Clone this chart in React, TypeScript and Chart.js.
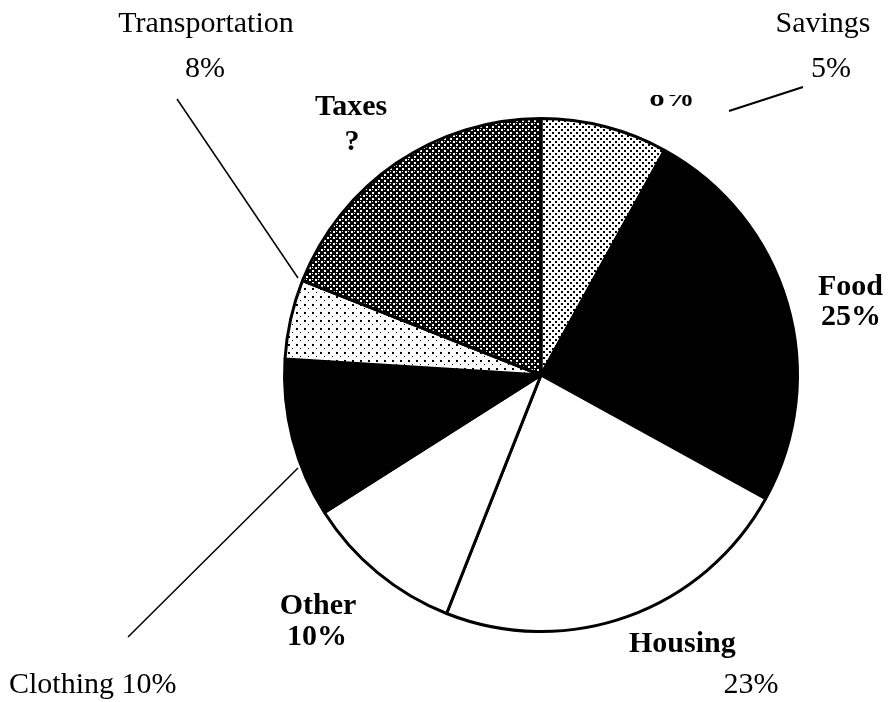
import React, { useEffect, useRef } from "react";
import { Chart, registerables } from "chart.js";

Chart.register(...registerables);

// ---- data ----
const categories = ["Savings", "Food", "Housing", "Other", "Clothing", "Transportation", "Taxes"];
const shares = [8, 25, 23, 10, 10, 5, 19];
const fills = ["dotsLight", "black", "white", "white", "black", "dotsSparse", "dotsDark"];

// labels printed on the scanned chart (bold)
const innerLabels = [
  ["8%"],
  ["Food", "25%"],
  ["Housing"],
  ["Other", "10%"],
  ["Taxes", "?"],
];
// typed annotations around the chart
const outerLabels = [
  ["Transportation", "8%"],
  ["Savings", "5%"],
  ["Clothing 10%"],
  ["23%"],
];

// ---- layout (positions only) ----
const W = 892;
const H = 702;
const innerPos = [
  { align: "center", x: [672], y: [106], clipTop: 95 },
  { align: "left", x: [818, 821], y: [295, 325], clipTop: 0 },
  { align: "left", x: [629], y: [652], clipTop: 0 },
  { align: "center", x: [318, 317], y: [614, 645], clipTop: 0 },
  { align: "center", x: [351, 352], y: [115, 150], clipTop: 0 },
];
const outerPos = [
  { align: "center", x: [206, 205], y: [32, 77] },
  { align: "center", x: [823, 831], y: [32, 77] },
  { align: "left", x: [9], y: [693] },
  { align: "center", x: [751], y: [693] },
];
const leaders = [
  [177, 99, 298, 278, 1.5],
  [803, 87, 729, 111, 2],
  [128, 637, 298, 468, 1.5],
];

function makePattern(size: number, bg: string, fg: string, dots: number[][]) {
  const c = document.createElement("canvas");
  c.width = size;
  c.height = size;
  const g = c.getContext("2d")!;
  g.fillStyle = bg;
  g.fillRect(0, 0, size, size);
  g.fillStyle = fg;
  dots.forEach(([x, y, s]) => g.fillRect(x, y, s, s));
  return g.createPattern(c, "repeat")!;
}

export default function App() {
  const ref = useRef<HTMLCanvasElement | null>(null);

  useEffect(() => {
    const canvas = ref.current!;
    const patterns: Record<string, any> = {
      black: "#000000",
      white: "#ffffff",
      dotsLight: makePattern(6, "#ffffff", "#000000", [[0, 0, 2], [3, 3, 2]]),
      dotsSparse: makePattern(8, "#ffffff", "#000000", [[0, 0, 2], [4, 4, 1]]),
      dotsDark: makePattern(6, "#000000", "#ffffff", [[0, 0, 2], [3, 3, 2], [0, 3, 1]]),
    };

    const whiteBg = {
      id: "whiteBg",
      beforeDraw(chart: any) {
        const ctx = chart.ctx;
        ctx.save();
        ctx.fillStyle = "#ffffff";
        ctx.fillRect(0, 0, W, H);
        ctx.restore();
      },
    };

    const annotations = {
      id: "annotations",
      afterDraw(chart: any) {
        const ctx = chart.ctx;
        ctx.save();
        ctx.fillStyle = "#000";
        ctx.textBaseline = "alphabetic";

        // bold labels from the scanned chart
        ctx.font = 'bold 30px "Liberation Serif", "Times New Roman", serif';
        innerLabels.forEach((lines, i) => {
          const p = innerPos[i];
          ctx.save();
          ctx.beginPath();
          ctx.rect(0, p.clipTop, W, H - p.clipTop);
          ctx.clip();
          ctx.textAlign = p.align;
          lines.forEach((t, j) => ctx.fillText(t, p.x[j], p.y[j]));
          ctx.restore();
        });

        // typed annotations
        ctx.font = '30px "Liberation Serif", "Times New Roman", serif';
        outerLabels.forEach((lines, i) => {
          const p = outerPos[i];
          ctx.textAlign = p.align;
          lines.forEach((t, j) => ctx.fillText(t, p.x[j], p.y[j]));
        });

        ctx.strokeStyle = "#000";
        leaders.forEach(([x1, y1, x2, y2, w]) => {
          ctx.lineWidth = w;
          ctx.beginPath();
          ctx.moveTo(x1, y1);
          ctx.lineTo(x2, y2);
          ctx.stroke();
        });
        ctx.restore();
      },
    };

    const chart = new Chart(canvas, {
      type: "pie",
      data: {
        labels: categories,
        datasets: [
          {
            data: shares,
            backgroundColor: fills.map((f) => patterns[f]),
            borderColor: "#000000",
            borderWidth: 3,
            hoverOffset: 0,
          },
        ],
      },
      options: {
        responsive: false,
        animation: false,
        events: [],
        layout: { padding: { left: 283, right: 93, top: 117, bottom: 69 } },
        plugins: {
          legend: { display: false },
          tooltip: { enabled: false },
          title: { display: false },
        },
      },
      plugins: [whiteBg, annotations],
    } as any);

    return () => chart.destroy();
  }, []);

  return (
    <div style={{ position: "absolute", left: 0, top: 0, width: W, height: H, background: "#fff" }}>
      <canvas ref={ref} width={W} height={H} style={{ width: W, height: H, display: "block" }} />
    </div>
  );
}
